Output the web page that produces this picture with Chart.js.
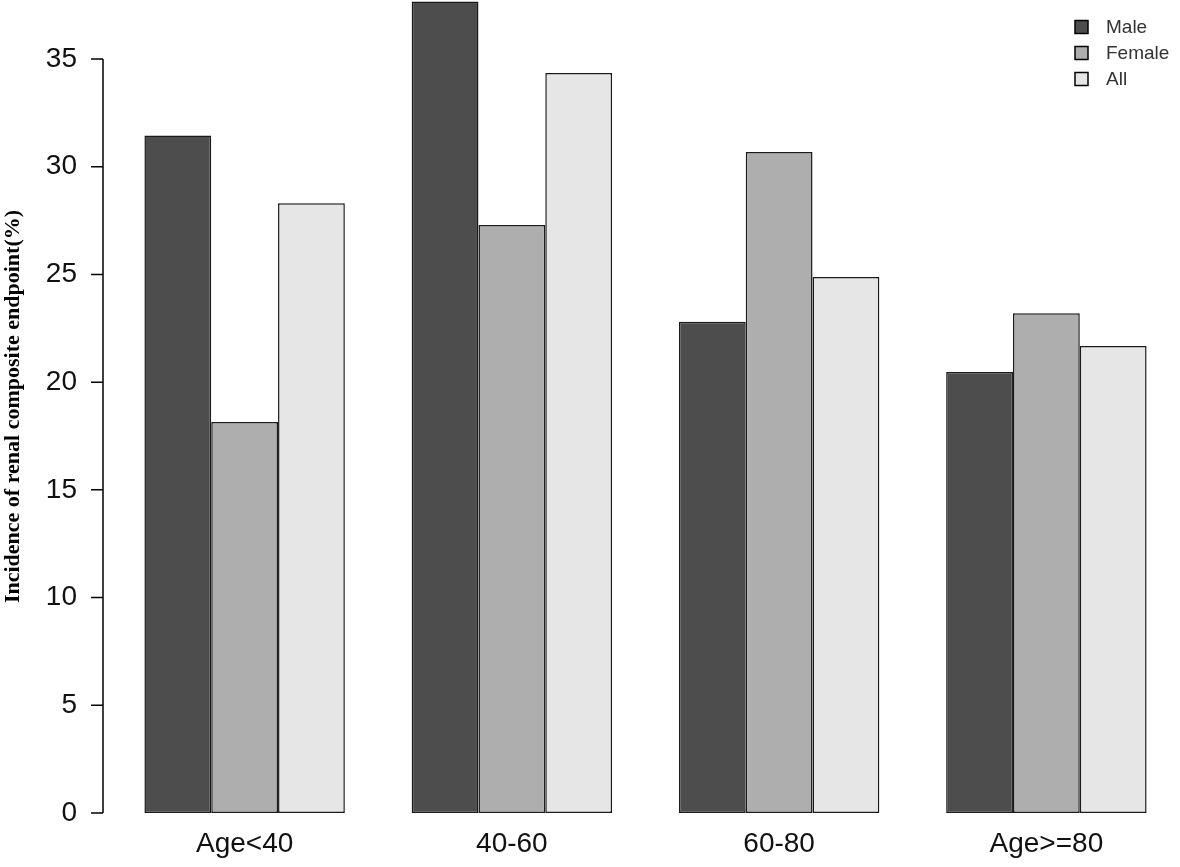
<!DOCTYPE html>
<html>
<head>
<meta charset="utf-8">
<script src="https://cdn.jsdelivr.net/npm/chart.js@4/dist/chart.umd.min.js"></script>
<style>
  html, body { margin: 0; padding: 0; background: #fff; }
  #wrap { width: 1180px; height: 867px; }
</style>
</head>
<body>
<div id="wrap"><canvas id="barChart" width="1180" height="867"></canvas></div>
<script>
// values
var ageGroups = ['Age<40', '40-60', '60-80', 'Age>=80'];
var maleValues = [31.45, 37.67, 22.8, 20.47];
var femaleValues = [18.15, 27.3, 30.68, 23.2];
var allValues = [28.3, 34.35, 24.88, 21.68];
var yTickValues = [0, 5, 10, 15, 20, 25, 30, 35];

var seriesNames = ['Male', 'Female', 'All'];
var seriesColors = ['#4d4d4d', '#aeaeae', '#e6e6e6'];

var sansFont = '"Liberation Sans", Arial, sans-serif';

// R style y axis: a line from first to last tick, sitting a little left of the bars
var rAxis = {
  id: 'rAxis',
  afterDraw: function(chart) {
    var c = chart.ctx, y = chart.scales.y;
    var x0 = 103;
    c.save();
    c.strokeStyle = '#000';
    c.lineWidth = 1.5;
    c.beginPath();
    c.moveTo(x0, y.getPixelForValue(yTickValues[0]));
    c.lineTo(x0, y.getPixelForValue(yTickValues[yTickValues.length - 1]));
    yTickValues.forEach(function(v) {
      var py = y.getPixelForValue(v);
      c.moveTo(x0, py);
      c.lineTo(x0 - 12, py);
    });
    c.stroke();
    c.restore();
  }
};

// small legend in the top right corner
var cornerLegend = {
  id: 'cornerLegend',
  afterDraw: function(chart) {
    var c = chart.ctx;
    c.save();
    c.font = '19px ' + sansFont;
    c.textBaseline = 'middle';
    chart.data.datasets.forEach(function(ds, i) {
      var cy = 27 + i * 26;
      c.fillStyle = ds.backgroundColor;
      c.fillRect(1075, cy - 6.5, 13, 13);
      c.strokeStyle = '#000';
      c.lineWidth = 1.5;
      c.strokeRect(1075, cy - 6.5, 13, 13);
      c.fillStyle = '#333';
      c.fillText(ds.label, 1106, cy + 1);
    });
    c.restore();
  }
};

var ctx = document.getElementById('barChart').getContext('2d');

var myBarChart = new Chart(ctx, {
  type: 'bar',
  data: {
    labels: ageGroups,
    datasets: [maleValues, femaleValues, allValues].map(function(vals, i) {
      return {
        label: seriesNames[i],
        data: vals,
        backgroundColor: seriesColors[i],
        borderColor: '#1a1a1a',
        borderWidth: 1.5,
        borderSkipped: false,
        barPercentage: 1,
        categoryPercentage: 0.75
      };
    })
  },
  options: {
    responsive: false,
    animation: false,
    layout: { padding: { top: 0, right: -8, bottom: 0, left: 0 } },
    plugins: {
      legend: { display: false },
      tooltip: { enabled: false }
    },
    scales: {
      x: {
        grid: { display: false, drawTicks: false },
        border: { display: false },
        ticks: {
          color: '#111',
          font: { family: sansFont, size: 28 },
          padding: 14,
          maxRotation: 0
        },
        afterFit: function(s) {
          s.height = 54;
          s.paddingLeft = 0; s.paddingRight = 0;
        }
      },
      y: {
        min: 0,
        max: 37.74,
        grid: { display: false, drawTicks: false },
        border: { display: false },
        afterBuildTicks: function(s) {
          s.ticks = yTickValues.map(function(v) { return { value: v }; });
        },
        ticks: {
          color: '#111',
          font: { family: sansFont, size: 28 },
          padding: 34
        },
        title: {
          display: true,
          text: 'Incidence of renal composite endpoint(%)',
          color: '#000',
          font: { family: '"Liberation Serif", "Times New Roman", serif', size: 22, weight: 'bold' },
          padding: { top: 0, bottom: 0 }
        },
        afterFit: function(s) {
          s.width = 111;
          s.paddingTop = 0; s.paddingBottom = 0;
        }
      }
    }
  },
  plugins: [rAxis, cornerLegend]
});
</script>
</body>
</html>
